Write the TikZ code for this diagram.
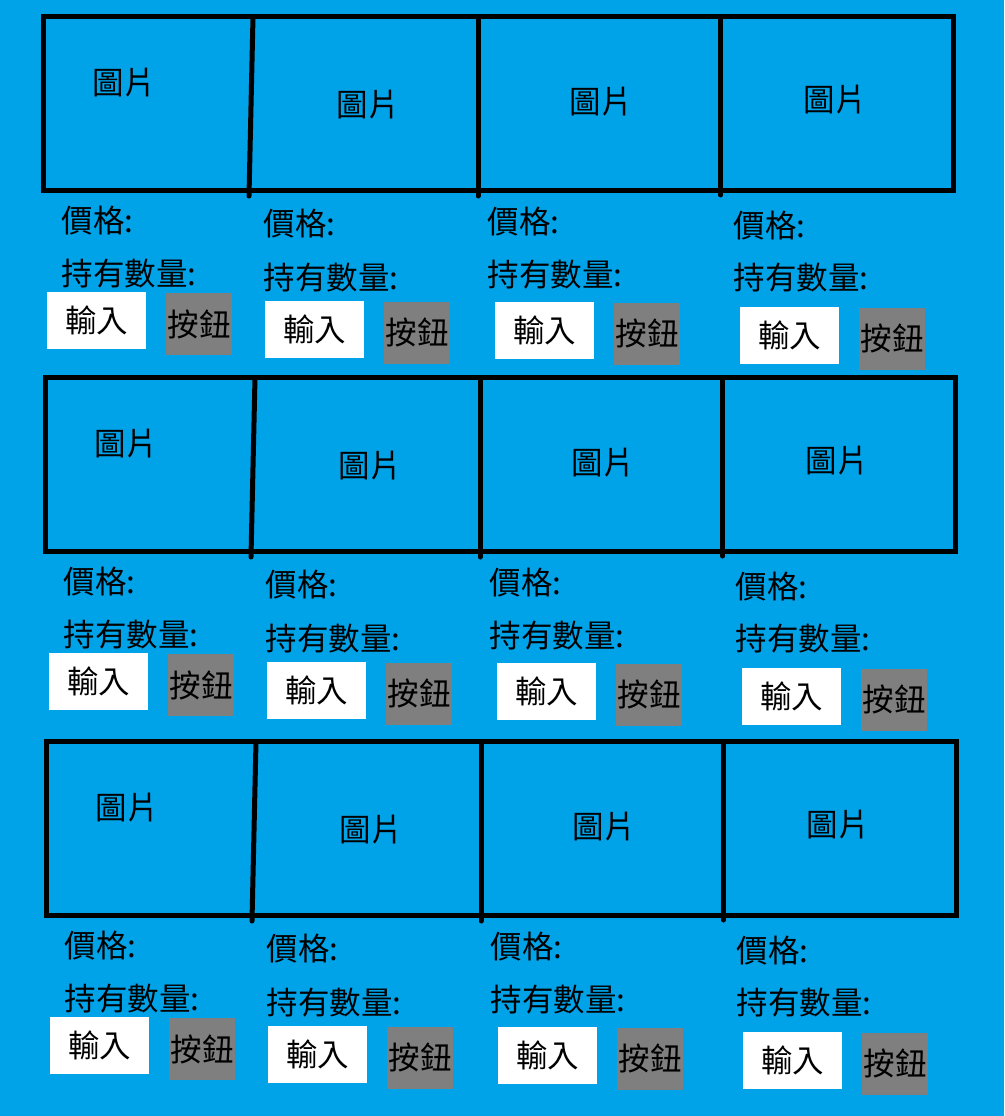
\documentclass[tikz,border=0pt]{standalone}
\usepackage{fontspec}
\setmainfont{Noto Sans CJK TC}
\definecolor{paintblue}{RGB}{0,162,232}
\definecolor{btngray}{RGB}{127,127,127}
\tikzset{
  frame/.style={line width=5pt},
  divider/.style={line width=5pt, line cap=round},
  bigtext/.style={font=\fontsize{31.5}{38}\selectfont},
  imgtext/.style={bigtext, inner sep=0pt},
  fieldtext/.style={bigtext, anchor=west, inner sep=0pt},
  inputbox/.style={bigtext, fill=white, inner sep=0pt, minimum width=99pt, minimum height=57pt},
  buttonbox/.style={bigtext, fill=btngray, inner sep=0pt, minimum width=66pt, minimum height=62pt}
}
\begin{document}
\begin{tikzpicture}[x=1pt,y=-1pt]
    \fill [paintblue] (0,0) rectangle (1004,1116);
    \useasboundingbox (0,0) rectangle (1004,1116);
    % three rows of four product cards
    \foreach \r/\dx/\dy in {1/0/0, 2/2/361, 3/3/725}{
        \begin{scope}[shift={(\dx,\dy)}]
            \draw [frame] (43,16.5) rectangle (953,190);
            \draw [divider] (253,16.5) -- (249,196);
            \draw [divider] (478,16.5) -- (478,196);
            \draw [divider] (720.5,16.5) -- (720.5,195);
            \foreach \c/\lx/\py/\qy/\ix/\iy/\bx/\by/\mx/\my in {
                1/61.5/221/274/96.5/320.5/199/324/124/83,
                2/263.5/224/277.5/314.5/329.5/417/332.5/368/104.5,
                3/487.5/222/274.5/544.5/330.5/647/333.5/601/102,
                4/733.5/225.5/278/789.5/335.5/892/338.5/835/100}{
                \node [imgtext] (img\r\c) at (\mx,\my) {圖片};
                \node [fieldtext] (price\r\c) at (\lx,\py) {價格:};
                \node [fieldtext] (qty\r\c) at (\lx,\qy) {持有數量:};
                \node [inputbox] (input\r\c) at (\ix,\iy) {輸入};
                \node [buttonbox] (button\r\c) at (\bx,\by) {按鈕};
            }
        \end{scope}
    }
\end{tikzpicture}
\end{document}
